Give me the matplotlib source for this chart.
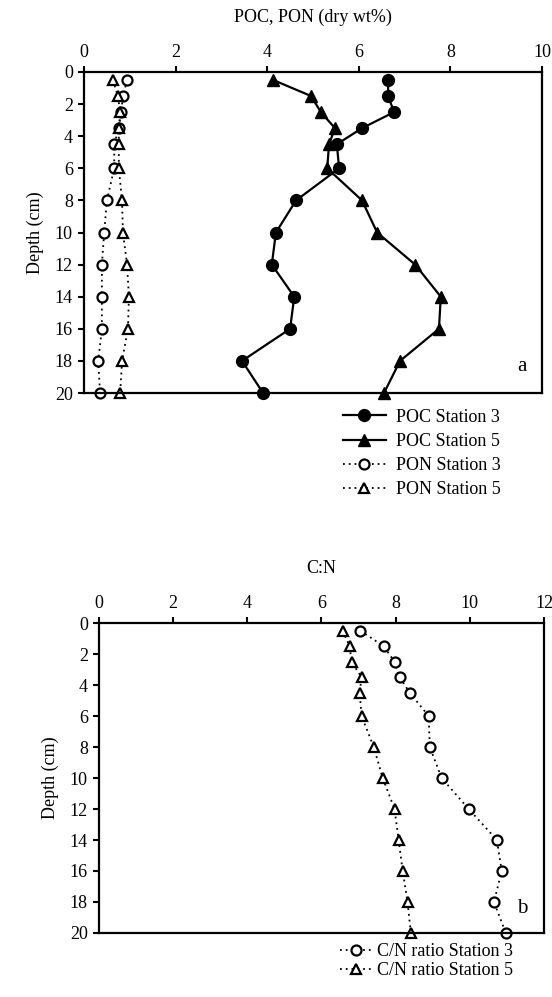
import matplotlib
matplotlib.use("Agg")
import matplotlib.pyplot as plt

plt.rcParams['font.family'] = ['Liberation Serif', 'DejaVu Serif']
plt.rcParams['font.size'] = 13

# sampling depths (cm)
depth = [0.5, 1.5, 2.5, 3.5, 4.5, 6, 8, 10, 12, 14, 16, 18, 20]

# dry wt%
poc_st3 = [6.64, 6.64, 6.77, 6.07, 5.52, 5.57, 4.63, 4.19, 4.10, 4.59, 4.50, 3.45, 3.91]
poc_st5 = [4.13, 4.96, 5.17, 5.48, 5.35, 5.31, 6.07, 6.40, 7.23, 7.79, 7.75, 6.90, 6.55]
pon_st3 = [0.94, 0.85, 0.81, 0.76, 0.66, 0.66, 0.50, 0.44, 0.39, 0.39, 0.39, 0.31, 0.35]
pon_st5 = [0.63, 0.74, 0.79, 0.76, 0.76, 0.76, 0.83, 0.85, 0.94, 0.98, 0.96, 0.83, 0.79]

# C:N ratios
cn_st3 = [7.05, 7.68, 7.97, 8.11, 8.38, 8.89, 8.92, 9.24, 9.97, 10.73, 10.86, 10.65, 10.97]
cn_st5 = [6.57, 6.76, 6.81, 7.08, 7.03, 7.08, 7.41, 7.65, 7.97, 8.08, 8.19, 8.32, 8.41]

fig = plt.figure(figsize=(5.52, 9.97), dpi=100)


def style_axis(ax, xmax, xlabel):
    ax.set_xlim(0, xmax)
    ax.set_ylim(20, 0)
    ax.xaxis.tick_top()
    ax.xaxis.set_label_position('top')
    ax.set_xticks(range(0, xmax + 1, 2))
    ax.set_yticks(range(0, 21, 2))
    ax.set_xlabel(xlabel, labelpad=16)
    ax.set_ylabel('Depth (cm)', labelpad=8)
    ax.tick_params(direction='out', length=4, width=1.5, pad=4, labelsize=13)
    for sp in ax.spines.values():
        sp.set_linewidth(1.6)


solid = dict(color='black', lw=1.6, ms=8.5, mfc='black', mec='black', clip_on=False)
dotted = dict(color='black', lw=1.3, ls=(0, (1, 2.2)), ms=7.2, mfc='white',
              mec='black', mew=1.6, clip_on=False)

ax1 = fig.add_axes([0.1522, 0.6058, 0.8297, 0.3220])
ax1.plot(poc_st3, depth, marker='o', label='POC Station 3', **solid)
ax1.plot(poc_st5, depth, marker='^', label='POC Station 5', **solid)
ax1.plot(pon_st3, depth, marker='o', label='PON Station 3', **dotted)
ax1.plot(pon_st5, depth, marker='^', label='PON Station 5', **dotted)
style_axis(ax1, 10, 'POC, PON (dry wt%)')
ax1.text(0.945, 0.07, 'a', transform=ax1.transAxes, fontsize=15)
ax1.legend(loc='center left', bbox_to_anchor=(0.621, 0.545), bbox_transform=fig.transFigure,
           frameon=False, fontsize=13, handlelength=2.4, handletextpad=0.55,
           labelspacing=0.4, borderaxespad=0, borderpad=0)

ax2 = fig.add_axes([0.1793, 0.0642, 0.8062, 0.3109])
ax2.plot(cn_st3, depth, marker='o', label='C/N ratio Station 3', **dotted)
ax2.plot(cn_st5, depth, marker='^', label='C/N ratio Station 5', **dotted)
style_axis(ax2, 12, 'C:N')
ax2.text(0.94, 0.065, 'b', transform=ax2.transAxes, fontsize=15)
ax2.legend(loc='center left', bbox_to_anchor=(0.616, 0.036), bbox_transform=fig.transFigure,
           frameon=False, fontsize=13, handlelength=1.8, handletextpad=0.22,
           labelspacing=0.12, borderaxespad=0, borderpad=0)

fig.savefig('out.png', dpi=100)
